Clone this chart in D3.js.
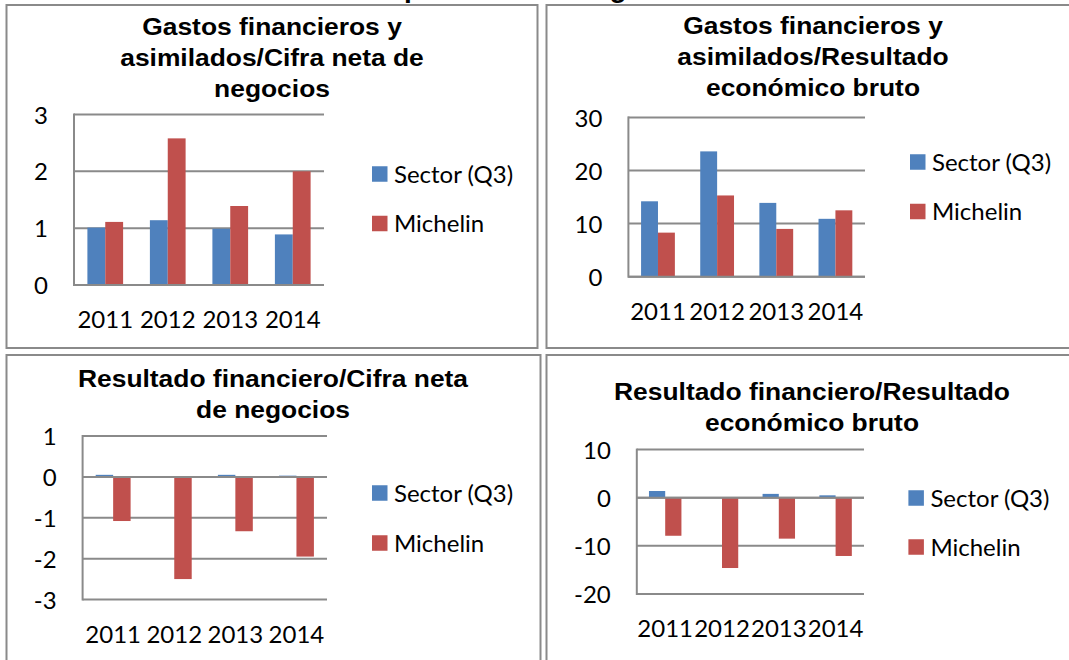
<!DOCTYPE html>
<html>
<head>
<meta charset="utf-8">
<script src="https://cdn.jsdelivr.net/npm/d3@7"></script>
<style>
  body { margin: 0; background: #fff; }
  svg { display: block; }
</style>
</head>
<body>
<svg id="chart"></svg>
<script>
// datos
var years = ["2011", "2012", "2013", "2014"];
var seriesNames = ["Sector (Q3)", "Michelin"];

var gfCifraSector = [1.01, 1.14, 0.99, 0.89];
var gfCifraMichelin = [1.11, 2.58, 1.39, 2.0];

var gfResSector = [14.2, 23.6, 13.9, 10.9];
var gfResMichelin = [8.3, 15.3, 9.0, 12.5];

var rfCifraSector = [0.05, -0.02, 0.05, 0.03];
var rfCifraMichelin = [-1.08, -2.5, -1.33, -1.95];

var rfResSector = [1.4, 0, 0.8, 0.5];
var rfResMichelin = [-7.9, -14.6, -8.5, -12.1];

var ticks1 = [0, 1, 2, 3];
var ticks2 = [0, 10, 20, 30];
var ticks3 = [-3, -2, -1, 0, 1];
var ticks4 = [-20, -10, 0, 10];

var title1 = ["Gastos financieros y", "asimilados/Cifra neta de", "negocios"];
var title2 = ["Gastos financieros y", "asimilados/Resultado", "económico bruto"];
var title3 = ["Resultado financiero/Cifra neta", "de negocios"];
var title4 = ["Resultado financiero/Resultado", "económico bruto"];
var pageTitle = "Análisis comparativo de los gastos";

var colors = ["#4F81BD", "#C0504D"];

var screen = { width: 1069, height: 660 };

var svg = d3.select("#chart")
            .attr("width", screen.width)
            .attr("height", screen.height);

svg.append("rect")
   .attr("width", screen.width)
   .attr("height", screen.height)
   .attr("fill", "#fff");

// titulo de pagina, cortado por arriba como en el original
var head = svg.append("text")
   .attr("x", 0)
   .attr("y", -3)
   .attr("font-family", "Liberation Sans, Arial, sans-serif")
   .attr("font-weight", "bold")
   .attr("font-size", 28)
   .attr("fill", "#000")
   .text(pageTitle);
var pIdx = pageTitle.indexOf("p");
var pPos = head.node().getStartPositionOfChar(pIdx).x;
head.attr("x", 404 - pPos);

var panels = [
  { title: title1, sector: gfCifraSector, michelin: gfCifraMichelin, ticks: ticks1,
    box: [6.5, 5, 531, 343], plot: { left: 74, top: 114.5, right: 324, bottom: 285 },
    titleX: 272, titleY: [34.5, 65.5, 96.5], legX: 372, legY: [174, 223.5] },
  { title: title2, sector: gfResSector, michelin: gfResMichelin, ticks: ticks2,
    box: [546.5, 5, 533, 343], plot: { left: 628.4, top: 117.4, right: 865, bottom: 276.7 },
    titleX: 813, titleY: [33.7, 64.8, 96], legX: 910, legY: [162, 211.5] },
  { title: title3, sector: rfCifraSector, michelin: rfCifraMichelin, ticks: ticks3,
    box: [6.5, 355, 534, 330], plot: { left: 82.6, top: 436, right: 327, bottom: 599.5 },
    titleX: 273, titleY: [386.6, 417.6], legX: 372, legY: [493, 543] },
  { title: title4, sector: rfResSector, michelin: rfResMichelin, ticks: ticks4,
    box: [546.5, 355, 533, 330], plot: { left: 636.8, top: 449.6, right: 864, bottom: 594 },
    titleX: 812, titleY: [400, 431], legX: 908.4, legY: [498, 547] }
];

var drawPanel = function(p)
{
  var g = svg.append("g");

  g.append("rect")
   .attr("x", p.box[0])
   .attr("y", p.box[1])
   .attr("width", p.box[2])
   .attr("height", p.box[3])
   .attr("fill", "#fff")
   .attr("stroke", "#8a8a8a")
   .attr("stroke-width", 2);

  // titulo
  g.selectAll("text.title")
   .data(p.title)
   .enter()
   .append("text")
   .classed("title", true)
   .attr("transform", function(d, i) {
     return "translate(" + p.titleX + "," + p.titleY[i] + ") scale(1.1,1)";
   })
   .attr("text-anchor", "middle")
   .attr("font-family", "Liberation Sans, Arial, sans-serif")
   .attr("font-weight", "bold")
   .attr("font-size", 24)
   .attr("fill", "#000")
   .text(function(d) { return d; });

  var pl = p.plot;
  var yScale = d3.scaleLinear()
                 .domain([p.ticks[0], p.ticks[p.ticks.length - 1]])
                 .range([pl.bottom, pl.top]);
  var xScale = d3.scaleBand()
                 .domain(years)
                 .range([pl.left, pl.right])
                 .paddingInner(1.5 / 3.5)
                 .paddingOuter(0.75 / 3.5);
  var xSub = d3.scaleBand()
               .domain(seriesNames)
               .range([0, xScale.bandwidth()]);

  // lineas de division
  g.selectAll("line.grid")
   .data(p.ticks)
   .enter()
   .append("line")
   .classed("grid", true)
   .attr("x1", pl.left)
   .attr("x2", pl.right)
   .attr("y1", function(d) { return yScale(d); })
   .attr("y2", function(d) { return yScale(d); })
   .attr("stroke", "#8a8a8a")
   .attr("stroke-width", 2);

  g.append("line")
   .attr("x1", pl.left)
   .attr("x2", pl.left)
   .attr("y1", pl.top - 1)
   .attr("y2", pl.bottom + 1)
   .attr("stroke", "#8a8a8a")
   .attr("stroke-width", 2);

  var rows = years.map(function(y, i) {
    return [
      { year: y, name: seriesNames[0], value: p.sector[i], c: colors[0] },
      { year: y, name: seriesNames[1], value: p.michelin[i], c: colors[1] }
    ];
  });
  var bars = [].concat.apply([], rows);

  g.selectAll("rect.bar")
   .data(bars)
   .enter()
   .append("rect")
   .classed("bar", true)
   .attr("x", function(d) { return xScale(d.year) + xSub(d.name); })
   .attr("width", xSub.bandwidth())
   .attr("y", function(d) { return Math.min(yScale(d.value), yScale(0)); })
   .attr("height", function(d) { return Math.abs(yScale(d.value) - yScale(0)); })
   .attr("fill", function(d) { return d.c; });

  // eje 0 encima de las barras
  g.append("line")
   .attr("x1", pl.left)
   .attr("x2", pl.right)
   .attr("y1", yScale(0))
   .attr("y2", yScale(0))
   .attr("stroke", "#8a8a8a")
   .attr("stroke-width", 2);

  var yAxis = d3.axisLeft(yScale)
                .tickValues(p.ticks)
                .tickSize(0)
                .tickPadding(26)
                .tickFormat(function(d) { return String(d); });
  var ya = g.append("g")
            .attr("transform", "translate(" + pl.left + ",0)")
            .call(yAxis);
  ya.select(".domain").remove();
  ya.selectAll("text")
    .attr("font-family", "Lato, sans-serif")
    .attr("font-size", 24)
    .attr("fill", "#000")
    .attr("dy", "0.36em");

  var xAxis = d3.axisBottom(xScale).tickSize(0);
  var xa = g.append("g")
            .attr("transform", "translate(0," + pl.bottom + ")")
            .call(xAxis);
  xa.select(".domain").remove();
  xa.selectAll("text")
    .attr("font-family", "Lato, sans-serif")
    .attr("font-size", 24)
    .attr("fill", "#000")
    .attr("y", 43)
    .attr("dy", 0);

  // leyenda
  var legend = g.selectAll("g.legendLine")
                .data(seriesNames)
                .enter()
                .append("g")
                .classed("legendLine", true)
                .attr("transform", function(d, i) {
                  return "translate(" + p.legX + "," + p.legY[i] + ")";
                });
  legend.append("rect")
        .attr("x", 0)
        .attr("y", -7.75)
        .attr("width", 15.5)
        .attr("height", 15.5)
        .attr("fill", function(d, i) { return colors[i]; });
  legend.append("text")
        .attr("x", 22)
        .attr("y", 0)
        .attr("dy", "0.36em")
        .attr("font-family", "Lato, sans-serif")
        .attr("font-size", 24)
        .attr("fill", "#000")
        .text(function(d) { return d; });
};

panels.forEach(drawPanel);
</script>
</body>
</html>
